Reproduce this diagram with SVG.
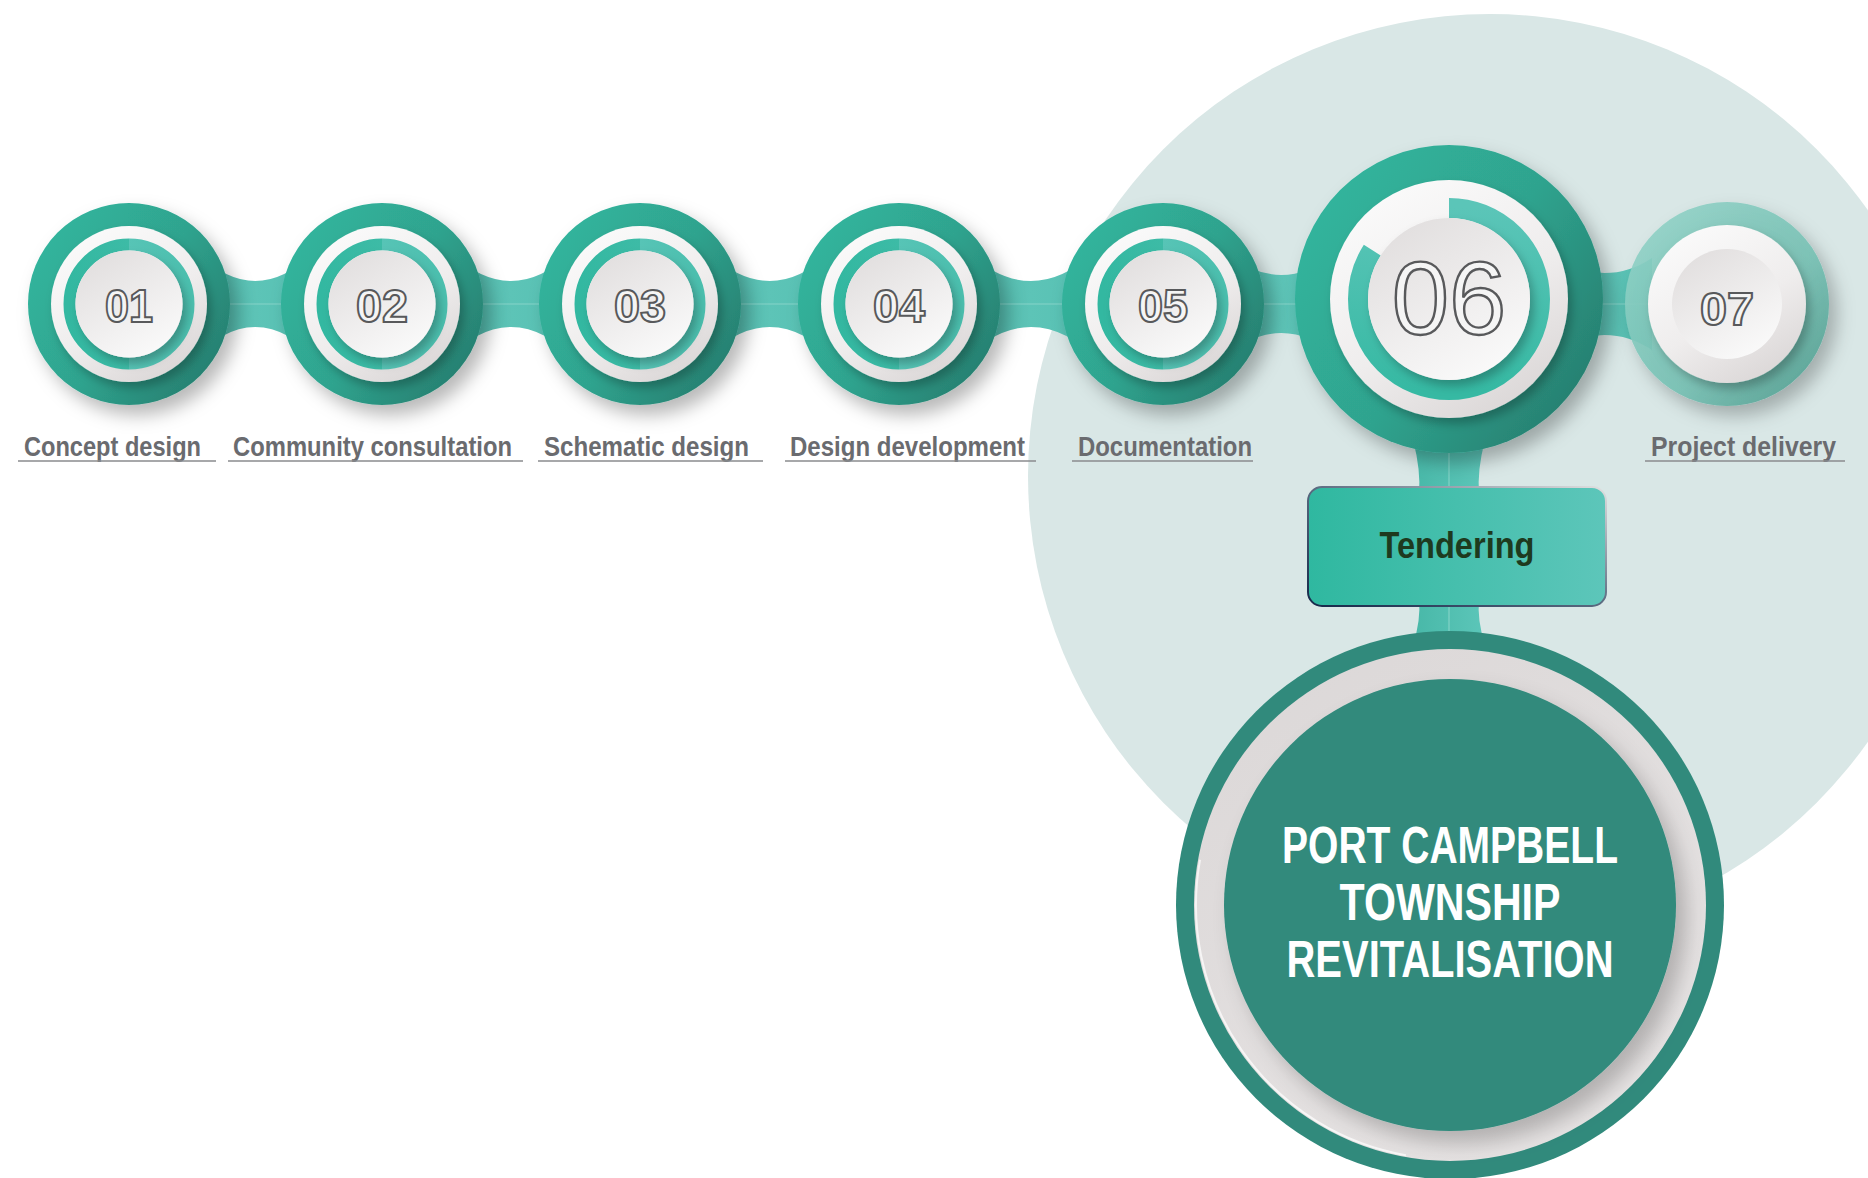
<svg xmlns="http://www.w3.org/2000/svg" width="1868" height="1178" viewBox="0 0 1868 1178">
<defs>
<style>
.num{font-family:"Liberation Sans",Arial,sans-serif;font-weight:bold;font-size:47px;fill:#f5f5f5;stroke:#58595b;stroke-width:2;text-anchor:middle}
.lbl{font-family:"Liberation Sans",Arial,sans-serif;font-weight:bold;font-size:28.5px;fill:#6a6b6f}
.ul{stroke:#8a8b8e;stroke-width:1.6}
.band{fill:url(#gBand)}
.cl{stroke:#8fd8cd;stroke-width:1.2;opacity:.8}
.big{font-family:"Liberation Sans",Arial,sans-serif;font-weight:bold;font-size:52px;fill:#ffffff;text-anchor:middle}
</style>
<linearGradient id="gOuter" x1="0" y1="0.2" x2="1" y2="0.9">
<stop offset="0" stop-color="#31b69e"/><stop offset="0.5" stop-color="#2fa38e"/><stop offset="1" stop-color="#25786a"/>
</linearGradient>
<linearGradient id="gWhite" x1="0.2" y1="0" x2="0.8" y2="1">
<stop offset="0" stop-color="#fbfbfb"/><stop offset="0.55" stop-color="#efeded"/><stop offset="1" stop-color="#d9d5d5"/>
</linearGradient>
<linearGradient id="gInner" x1="0.2" y1="0" x2="0.8" y2="1">
<stop offset="0" stop-color="#e1dede"/><stop offset="1" stop-color="#fbfbfb"/>
</linearGradient>
<linearGradient id="gHalf" x1="0" y1="0" x2="1" y2="0">
<stop offset="0" stop-color="#33b8a1"/><stop offset="0.5" stop-color="#3dbba6"/><stop offset="0.5" stop-color="#57c4b6"/><stop offset="1" stop-color="#4bbfae"/>
</linearGradient>
<linearGradient id="gArc" x1="0" y1="0" x2="1" y2="0">
<stop offset="0" stop-color="#36b9a3"/><stop offset="1" stop-color="#5bc5b8"/>
</linearGradient>
<linearGradient id="gBand" x1="0" y1="0" x2="1" y2="0">
<stop offset="0" stop-color="#4cb7a8"/><stop offset="0.5" stop-color="#5dc4b7"/><stop offset="1" stop-color="#55c0b2"/>
</linearGradient>
<linearGradient id="gBandV" x1="0" y1="0" x2="1" y2="0">
<stop offset="0" stop-color="#48b8a8"/><stop offset="1" stop-color="#5cc6b9"/>
</linearGradient>
<linearGradient id="g07" x1="0" y1="0" x2="1" y2="1">
<stop offset="0" stop-color="#95d5ca"/><stop offset="0.6" stop-color="#76c0b3"/><stop offset="1" stop-color="#4a988a"/>
</linearGradient>
<linearGradient id="gBox" x1="0" y1="0" x2="1" y2="0">
<stop offset="0" stop-color="#2fb8a0"/><stop offset="1" stop-color="#5dc6ba"/>
</linearGradient>
<linearGradient id="gBoxStroke" x1="0" y1="1" x2="1" y2="0">
<stop offset="0" stop-color="#16284a"/><stop offset="0.5" stop-color="#5a6a80"/><stop offset="1" stop-color="#e0e0e0"/>
</linearGradient>
<linearGradient id="gGray" x1="0.2" y1="0" x2="0.8" y2="1">
<stop offset="0" stop-color="#dcd8d8"/><stop offset="1" stop-color="#e6e3e3"/>
</linearGradient>
<filter id="sh" x="-30%" y="-30%" width="170%" height="170%">
<feDropShadow dx="8" dy="10" stdDeviation="9" flood-color="#000" flood-opacity="0.28"/>
</filter>
<filter id="sh2" x="-30%" y="-30%" width="170%" height="170%">
<feDropShadow dx="4" dy="6" stdDeviation="5" flood-color="#000" flood-opacity="0.25"/>
</filter>
<filter id="shBig" x="-20%" y="-20%" width="150%" height="150%">
<feDropShadow dx="10" dy="12" stdDeviation="10" flood-color="#000" flood-opacity="0.22"/>
</filter>
</defs>

<rect width="1868" height="1178" fill="#ffffff"/>
<circle id="backdrop" cx="1490" cy="476" r="462" fill="#d9e7e6"/>

<g id="connectors">
<path class="band" d="M189 244 Q255 318 322 244 L322 364 Q255 290 189 364 Z"/>
<path class="band" d="M442 244 Q511 318 580 244 L580 364 Q511 290 442 364 Z"/>
<path class="band" d="M700 244 Q770 318 839 244 L839 364 Q770 290 700 364 Z"/>
<path class="band" d="M959 244 Q1031 318 1103 244 L1103 364 Q1031 290 959 364 Z"/>
<path class="band" d="M1223 250 Q1281 300 1340 250 L1340 358 Q1281 308 1223 358 Z"/>
<path class="band" d="M1560 262 Q1610 286 1652 258 L1652 350 Q1610 322 1560 346 Z"/>
<path fill="url(#gBandV)" d="M1413 440 Q1421 470 1419 495 L1479 495 Q1477 470 1485 440 Z"/>
<path fill="url(#gBandV)" d="M1419 600 Q1421 620 1413 645 L1485 645 Q1477 620 1479 600 Z"/>
<line class="cl" x1="220" y1="304" x2="290" y2="304"/>
<line class="cl" x1="475" y1="304" x2="545" y2="304"/>
<line class="cl" x1="735" y1="304" x2="805" y2="304"/>
<line class="cl" x1="995" y1="304" x2="1065" y2="304"/>
<line class="cl" x1="1255" y1="304" x2="1305" y2="304"/>
<line class="cl" x1="1595" y1="304" x2="1650" y2="304"/>
<line class="cl" x1="1449" y1="450" x2="1449" y2="488"/>
<line class="cl" x1="1449" y1="606" x2="1449" y2="634"/>
</g>

<g id="step01" transform="translate(129,304)">
<circle r="101" fill="url(#gOuter)" filter="url(#sh)"/>
<circle r="78" fill="url(#gWhite)" filter="url(#sh2)"/>
<circle r="59.5" fill="none" stroke="url(#gHalf)" stroke-width="12"/>
<circle r="53.5" fill="url(#gInner)" filter="url(#sh2)"/>
<text class="num" y="18" textLength="48" lengthAdjust="spacingAndGlyphs">01</text>
</g>
<g id="step02" transform="translate(382,304)">
<circle r="101" fill="url(#gOuter)" filter="url(#sh)"/>
<circle r="78" fill="url(#gWhite)" filter="url(#sh2)"/>
<circle r="59.5" fill="none" stroke="url(#gHalf)" stroke-width="12"/>
<circle r="53.5" fill="url(#gInner)" filter="url(#sh2)"/>
<text class="num" y="18" textLength="52" lengthAdjust="spacingAndGlyphs">02</text>
</g>
<g id="step03" transform="translate(640,304)">
<circle r="101" fill="url(#gOuter)" filter="url(#sh)"/>
<circle r="78" fill="url(#gWhite)" filter="url(#sh2)"/>
<circle r="59.5" fill="none" stroke="url(#gHalf)" stroke-width="12"/>
<circle r="53.5" fill="url(#gInner)" filter="url(#sh2)"/>
<text class="num" y="18" textLength="52" lengthAdjust="spacingAndGlyphs">03</text>
</g>
<g id="step04" transform="translate(899,304)">
<circle r="101" fill="url(#gOuter)" filter="url(#sh)"/>
<circle r="78" fill="url(#gWhite)" filter="url(#sh2)"/>
<circle r="59.5" fill="none" stroke="url(#gHalf)" stroke-width="12"/>
<circle r="53.5" fill="url(#gInner)" filter="url(#sh2)"/>
<text class="num" y="18" textLength="52" lengthAdjust="spacingAndGlyphs">04</text>
</g>
<g id="step05" transform="translate(1163,304)">
<circle r="101" fill="url(#gOuter)" filter="url(#sh)"/>
<circle r="78" fill="url(#gWhite)" filter="url(#sh2)"/>
<circle r="59.5" fill="none" stroke="url(#gHalf)" stroke-width="12"/>
<circle r="53.5" fill="url(#gInner)" filter="url(#sh2)"/>
<text class="num" y="18" textLength="50" lengthAdjust="spacingAndGlyphs">05</text>
</g>
<g id="step06" transform="translate(1449,299)">
<circle r="154" fill="url(#gOuter)" filter="url(#sh)"/>
<circle r="119" fill="url(#gWhite)" filter="url(#sh2)"/>
<circle r="91" fill="none" stroke="url(#gArc)" stroke-width="20" stroke-dasharray="479.7 600" transform="rotate(-90)"/>
<circle r="81" fill="url(#gInner)" filter="url(#sh2)"/>
<text class="num" y="35" style="font-weight:normal;font-size:103px;stroke-width:2.4">06</text>
</g>
<g id="step07" transform="translate(1727,304)">
<circle r="102" fill="url(#g07)" fill-opacity="0.9" filter="url(#sh)"/>
<circle r="79" fill="url(#gWhite)" filter="url(#sh2)"/>
<circle r="55" fill="url(#gInner)"/>
<text class="num" y="21" textLength="54" lengthAdjust="spacingAndGlyphs">07</text>
</g>

<g id="labels">
<text class="lbl" x="24" y="456" textLength="177" lengthAdjust="spacingAndGlyphs">Concept design</text>
<line class="ul" x1="18" y1="461" x2="216" y2="461"/>
<text class="lbl" x="233" y="456" textLength="279" lengthAdjust="spacingAndGlyphs">Community consultation</text>
<line class="ul" x1="228" y1="461" x2="523" y2="461"/>
<text class="lbl" x="544" y="456" textLength="205" lengthAdjust="spacingAndGlyphs">Schematic design</text>
<line class="ul" x1="538" y1="461" x2="763" y2="461"/>
<text class="lbl" x="790" y="456" textLength="235" lengthAdjust="spacingAndGlyphs">Design development</text>
<line class="ul" x1="785" y1="461" x2="1036" y2="461"/>
<text class="lbl" x="1078" y="456" textLength="174" lengthAdjust="spacingAndGlyphs">Documentation</text>
<line class="ul" x1="1072" y1="461" x2="1253" y2="461"/>
<text class="lbl" x="1651" y="456" textLength="185" lengthAdjust="spacingAndGlyphs">Project delivery</text>
<line class="ul" x1="1645" y1="461" x2="1845" y2="461"/>
</g>

<g id="tendering">
<rect x="1308" y="487" width="298" height="119" rx="14" fill="url(#gBox)" stroke="url(#gBoxStroke)" stroke-width="2"/>
<text x="1457" y="558" text-anchor="middle" textLength="155" lengthAdjust="spacingAndGlyphs" style="font-family:'Liberation Sans',Arial,sans-serif;font-weight:bold;font-size:36px;fill:#1e3a1e">Tendering</text>
</g>

<g id="project" transform="translate(1450,905)">
<circle r="274" fill="#318a7c"/>
<circle r="256" fill="url(#gGray)"/>
<circle r="254" fill="none" stroke="#ffffff" stroke-opacity="0.7" stroke-width="2" stroke-dasharray="400 1200" transform="rotate(100)"/>
<circle r="226" fill="#318a7c" filter="url(#shBig)"/>
<text class="big" y="-42" textLength="336" lengthAdjust="spacingAndGlyphs">PORT CAMPBELL</text>
<text class="big" y="15" textLength="221" lengthAdjust="spacingAndGlyphs">TOWNSHIP</text>
<text class="big" y="72" textLength="327" lengthAdjust="spacingAndGlyphs">REVITALISATION</text>
</g>
</svg>
